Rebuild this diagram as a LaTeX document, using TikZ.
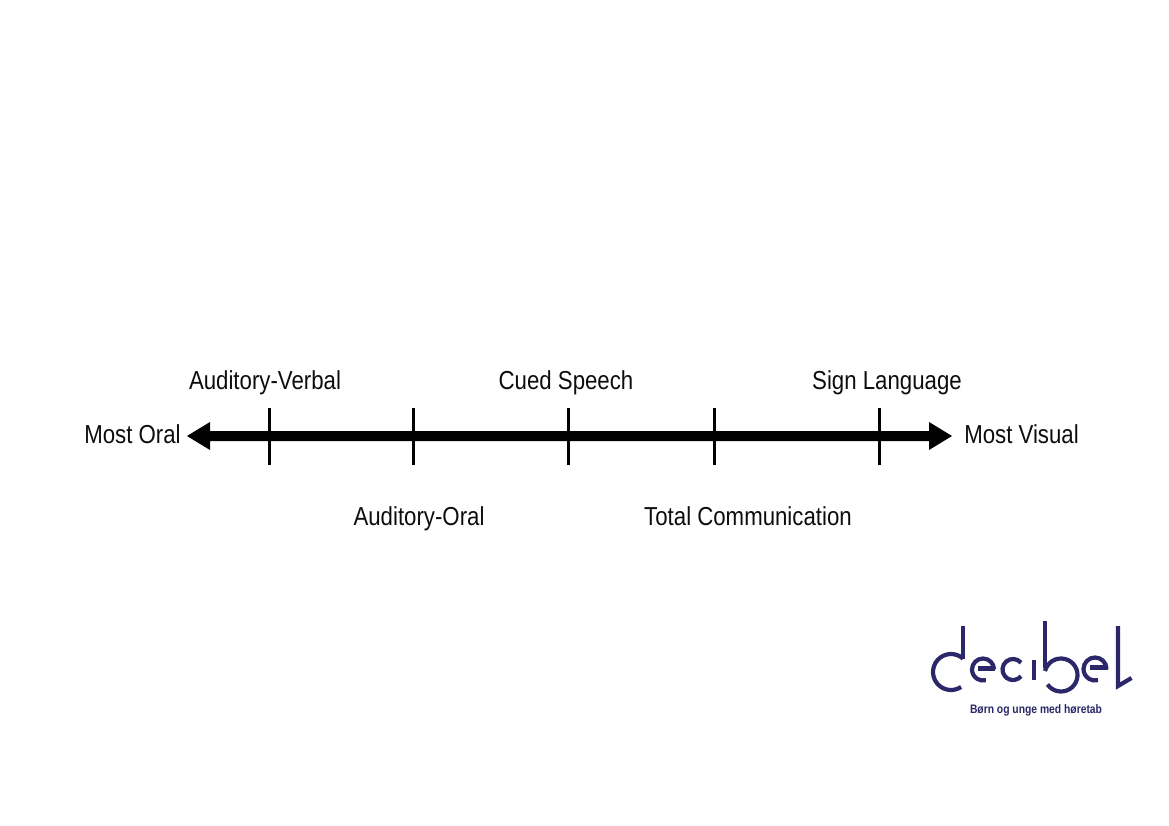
\documentclass[tikz,border=0pt]{standalone}
\usepackage{fontspec}
\setmainfont{Liberation Sans}
\definecolor{logoblue}{HTML}{2B2768}
\tikzset{
  x=1pt,y=-1pt,
  lbl/.style={inner sep=0pt,anchor=base,font=\fontsize{26}{28}\selectfont,xscale=0.855,text=black!95},
  tick/.style={line width=3pt},
  logostroke/.style={draw=logoblue,line width=4.2pt},
}
% circular stroke of the wordmark: centre x, centre y, radius, start, end
% (angles run clockwise from east because the y axis points down)
\newcommand{\logoarc}[5]{\draw[logostroke] (#1,#2) ++(#4:#3) arc[start angle=#4,end angle=#5,radius=#3];}
\begin{document}
\begin{tikzpicture}
\useasboundingbox (0,0) rectangle (1169,826);
% axis
\coordinate (L) at (187,436);
\coordinate (R) at (952,436);
\fill (L) -- (210,422) -- (210,431) -- (929,431) -- (929,422) -- (R) -- (929,450) -- (929,441) -- (210,441) -- (210,450) -- cycle;
% ticks
\foreach \n/\x in {a/269,b/413.5,c/568.5,d/714,e/879}{
  \coordinate (\n t) at (\x,408);
  \coordinate (\n b) at (\x,465);
  \draw[tick] (\n t) -- (\n b);
}
% labels
\node[lbl] (oral) at (132.5,443) {Most Oral};
\node[lbl] (visual) at (1021.5,443) {Most Visual};
\node[lbl] (av) at (265,389) {Auditory-Verbal};
\node[lbl] (cs) at (566,389) {Cued Speech};
\node[lbl] (sl) at (887,389) {Sign Language};
\node[lbl] (ao) at (419,525) {Auditory-Oral};
\node[lbl] (tc) at (748,525) {Total Communication};
% wordmark: d
\draw[logostroke] (963,626) -- (963,659);
\logoarc{951}{672}{18}{312}{56}
% e
\logoarc{983}{669.5}{11}{360}{75}
\draw[logostroke] (978,668.5) -- (994.5,668.5);
% c
\logoarc{1013}{669.5}{10.5}{320}{40}
% i
\draw[logostroke] (1034,660) -- (1034,680);
% b
\draw[logostroke] (1045,621) -- (1045,668);
\logoarc{1061}{675}{16.5}{194}{505}
% e
\logoarc{1095}{669}{11.5}{360}{75}
\draw[logostroke] (1090,667.5) -- (1108,667.5);
% l
\draw[logostroke,line join=miter] (1118,626) -- (1118,686) -- (1131.5,678);
% tagline
\node[inner sep=0pt,anchor=base,xscale=0.84,text=logoblue,font=\bfseries\fontsize{12.3}{13}\selectfont] (tag) at (1036,713) {Børn og unge med høretab};
\end{tikzpicture}
\end{document}
